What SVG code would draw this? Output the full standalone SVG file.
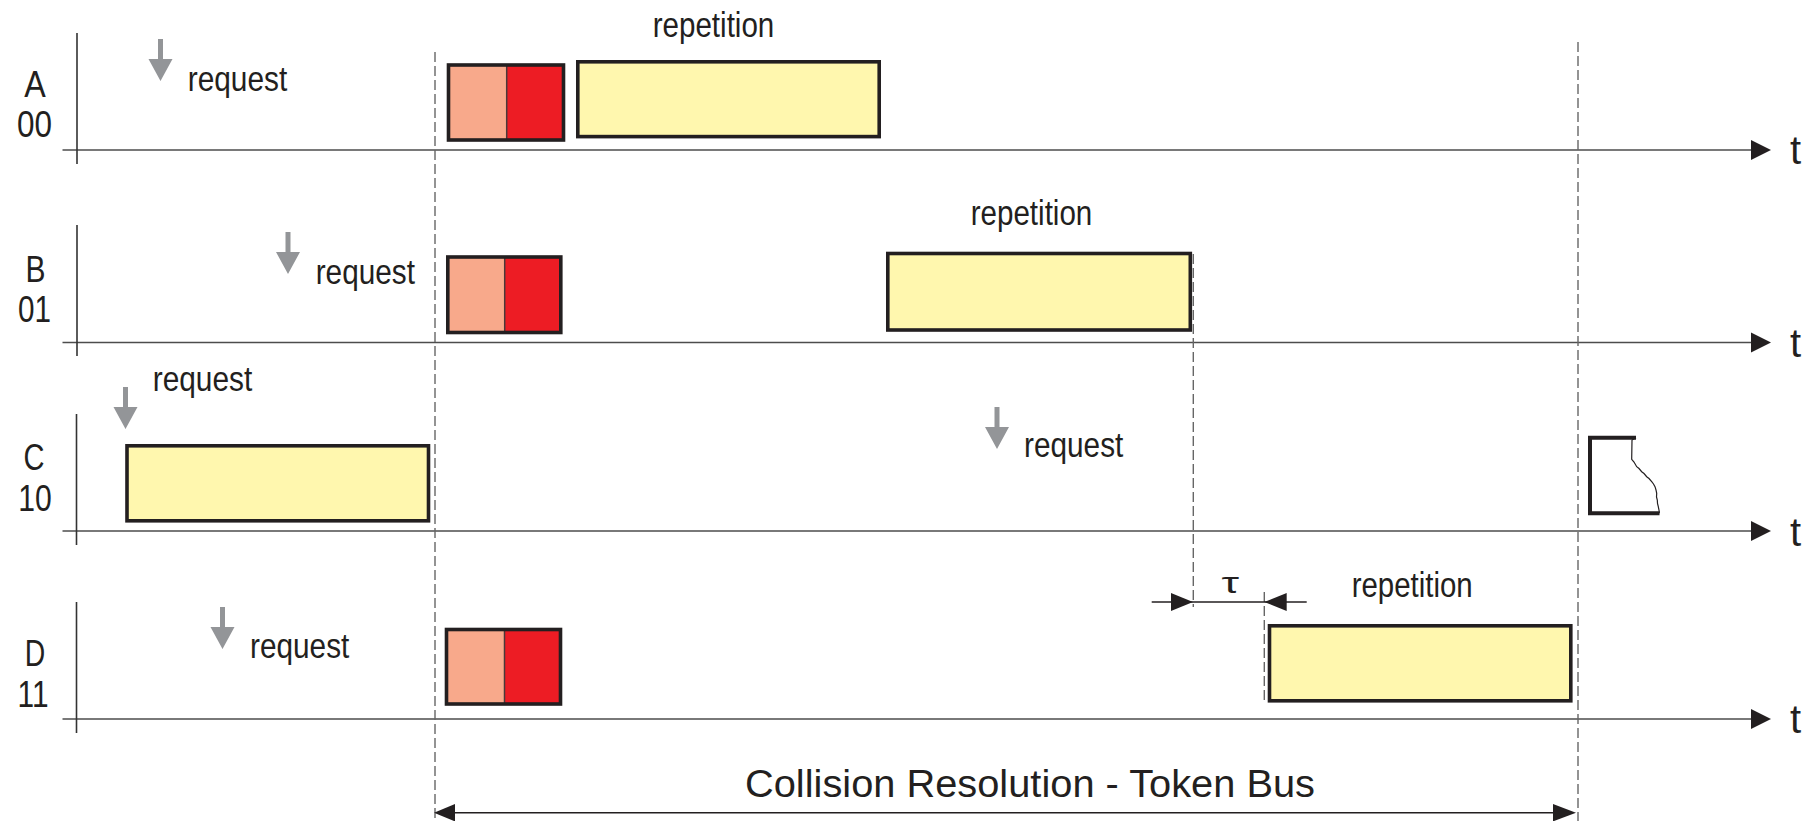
<svg xmlns="http://www.w3.org/2000/svg" width="1814" height="821" viewBox="0 0 1814 821">
<style>
text{font-family:"Liberation Sans",Arial,sans-serif;fill:#231F20}
.lbl{font-size:37px;text-anchor:middle}
.req{font-size:35px}
.t{font-size:40px}
.axis{stroke:#4D4D4D;stroke-width:1.6;fill:none}
.vax{stroke:#333;stroke-width:1.6;fill:none}
.dash{stroke:#666;stroke-width:1.4;stroke-dasharray:10 4;fill:none}
.box{stroke:#231F20;stroke-width:3.6}
.sal{fill:#F8A98B}
.red{fill:#ED1C24}
.yel{fill:#FFF7AE;stroke:#231F20;stroke-width:3.6}
.div{stroke:#4A3A3A;stroke-width:1.5}
.head{fill:#231F20}
.reqarrow{fill:#939598}
.dim{stroke:#231F20;stroke-width:1.4;fill:none}
</style>
<defs>
<path id="rq" d="M-2.5,0 H2.5 V20 H12 L0,42 L-12,20 H-2.5 Z"/>
</defs>

<g id="connectors">
  <!-- time axes -->
  <line class="axis" x1="62.5" y1="150" x2="1752" y2="150"/>
  <polygon class="head" points="1751,140 1771,150 1751,160"/>
  <line class="axis" x1="62.5" y1="342.5" x2="1752" y2="342.5"/>
  <polygon class="head" points="1751,332.5 1771,342.5 1751,352.5"/>
  <line class="axis" x1="62.5" y1="531" x2="1752" y2="531"/>
  <polygon class="head" points="1751,521 1771,531 1751,541"/>
  <line class="axis" x1="62.5" y1="719" x2="1752" y2="719"/>
  <polygon class="head" points="1751,709 1771,719 1751,729"/>
  <!-- vertical axes -->
  <line class="vax" x1="77" y1="33" x2="77" y2="164"/>
  <line class="vax" x1="77" y1="225" x2="77" y2="356"/>
  <line class="vax" x1="76.5" y1="414" x2="76.5" y2="545"/>
  <line class="vax" x1="76.5" y1="602" x2="76.5" y2="733"/>
  <!-- dashed markers -->
  <line class="dash" x1="435" y1="52" x2="435" y2="821"/>
  <line class="dash" x1="1578" y1="42" x2="1578" y2="821"/>
  <line class="dash" x1="1193.3" y1="254" x2="1193.3" y2="607"/>
  <line class="dash" x1="1264.3" y1="592" x2="1264.3" y2="702"/>
  <!-- tau dimension -->
  <line class="dim" x1="1151.7" y1="602" x2="1306.7" y2="602"/>
  <polygon class="head" points="1171,593 1193,602 1171,611"/>
  <polygon class="head" points="1286.7,593 1264.3,602 1286.7,611"/>
  <!-- bottom span -->
  <line class="dim" x1="450" y1="812.7" x2="1560" y2="812.7"/>
  <polygon class="head" points="455,804 434,812.7 455,821.4"/>
  <polygon class="head" points="1553,804 1576,812.7 1553,821.4"/>
  <!-- request arrows -->
  <use href="#rq" class="reqarrow" x="160.5" y="39"/>
  <use href="#rq" class="reqarrow" x="288" y="232"/>
  <use href="#rq" class="reqarrow" x="125.5" y="387"/>
  <use href="#rq" class="reqarrow" x="997" y="407"/>
  <use href="#rq" class="reqarrow" x="222.5" y="607"/>
</g>

<g id="row-A">
  <text class="lbl" x="35" y="97" textLength="21.5" lengthAdjust="spacingAndGlyphs">A</text>
  <text class="lbl" x="34.5" y="137" textLength="35" lengthAdjust="spacingAndGlyphs">00</text>
  <text class="req" x="187.7" y="91" textLength="99.6" lengthAdjust="spacingAndGlyphs">request</text>
  <g id="A-collision">
    <rect class="sal" x="448.5" y="65" width="58.2" height="75"/>
    <rect class="red" x="506.7" y="65" width="56.8" height="75"/>
    <line class="div" x1="506.7" y1="65" x2="506.7" y2="140"/>
    <rect class="box" fill="none" x="448.5" y="65" width="115" height="75"/>
  </g>
  <rect id="A-repetition" class="yel" x="577.8" y="61.8" width="301.4" height="74.8"/>
  <text class="req" x="652.7" y="36.7" textLength="121.6" lengthAdjust="spacingAndGlyphs">repetition</text>
  <text class="t" x="1790" y="164">t</text>
</g>

<g id="row-B">
  <text class="lbl" x="35.5" y="281.7" textLength="20" lengthAdjust="spacingAndGlyphs">B</text>
  <text class="lbl" x="34.5" y="321.7" textLength="33" lengthAdjust="spacingAndGlyphs">01</text>
  <text class="req" x="315.7" y="284" textLength="99.3" lengthAdjust="spacingAndGlyphs">request</text>
  <g id="B-collision">
    <rect class="sal" x="447.8" y="257" width="56.9" height="75.5"/>
    <rect class="red" x="504.7" y="257" width="56.1" height="75.5"/>
    <line class="div" x1="504.7" y1="257" x2="504.7" y2="332.5"/>
    <rect class="box" fill="none" x="447.8" y="257" width="113" height="75.5"/>
  </g>
  <rect id="B-repetition" class="yel" x="887.8" y="253.5" width="302.5" height="76.5"/>
  <text class="req" x="970.7" y="225" textLength="121.6" lengthAdjust="spacingAndGlyphs">repetition</text>
  <text class="t" x="1790" y="356.5">t</text>
</g>

<g id="row-C">
  <text class="lbl" x="34" y="470" textLength="21" lengthAdjust="spacingAndGlyphs">C</text>
  <text class="lbl" x="35" y="511" textLength="33.5" lengthAdjust="spacingAndGlyphs">10</text>
  <text class="req" x="152.7" y="390.7" textLength="99.6" lengthAdjust="spacingAndGlyphs">request</text>
  <rect id="C-frame" class="yel" x="127" y="445.8" width="301.5" height="75"/>
  <text class="req" x="1024" y="457.3" textLength="99.3" lengthAdjust="spacingAndGlyphs">request</text>
  <g id="C-broken">
    <path d="M1636,437.7 H1590 V513.3 H1659.5" fill="none" stroke="#231F20" stroke-width="4"/>
    <path d="M1636,437.7 L1632,440 L1631.7,459.3 L1634,462 L1636.7,466.7 L1639,468.5 L1641.7,471.7 L1644,473.5 L1646.7,476.7 L1649,478.5 L1651.7,481.7 L1653.5,484 L1655,486.7 L1656,490 L1656.7,493.3 L1656.5,497 L1657.3,500 L1657.5,503.5 L1658.3,506.7 L1659.3,511.7 L1659.3,513.3" fill="none" stroke="#231F20" stroke-width="1.2"/>
  </g>
  <text class="t" x="1790" y="545.7">t</text>
</g>

<g id="row-D">
  <text class="lbl" x="35" y="666" textLength="20.5" lengthAdjust="spacingAndGlyphs">D</text>
  <text class="lbl" x="33" y="706.7" textLength="31" lengthAdjust="spacingAndGlyphs">11</text>
  <text class="req" x="250" y="657.7" textLength="99.3" lengthAdjust="spacingAndGlyphs">request</text>
  <g id="D-collision">
    <rect class="sal" x="446.5" y="629.5" width="58" height="74.5"/>
    <rect class="red" x="504.5" y="629.5" width="56" height="74.5"/>
    <line class="div" x1="504.5" y1="629.5" x2="504.5" y2="704"/>
    <rect class="box" fill="none" x="446.5" y="629.5" width="114" height="74.5"/>
  </g>
  <rect id="D-repetition" class="yel" x="1269.5" y="625.8" width="301.3" height="75"/>
  <text class="req" x="1351.7" y="596.7" textLength="121" lengthAdjust="spacingAndGlyphs">repetition</text>
  <text x="1221.5" y="593.3" style="font-size:29px" textLength="17.5" lengthAdjust="spacingAndGlyphs">τ</text>
  <text class="t" x="1790" y="733">t</text>
</g>

<g id="caption">
  <text x="745" y="796.7" style="font-size:39px" textLength="570" lengthAdjust="spacingAndGlyphs">Collision Resolution - Token Bus</text>
</g>
</svg>
